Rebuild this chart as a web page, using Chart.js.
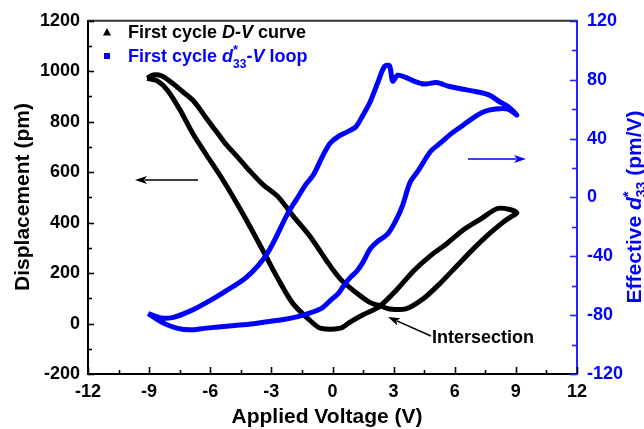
<!DOCTYPE html>
<html><head><meta charset="utf-8">
<script src="https://cdn.jsdelivr.net/npm/chart.js@4/dist/chart.umd.min.js"></script>
<style>html,body{margin:0;padding:0;background:#fff}#wrap{width:644px;height:429px;position:relative}</style>
</head><body><div id="wrap"><canvas id="c" width="644" height="429" style="width:644px;height:429px"></canvas></div>
<script>
// ---- Data ----
const xTickValues = [-12, -9, -6, -3, 0, 3, 6, 9, 12];
const leftTickValues = [-200, 0, 200, 400, 600, 800, 1000, 1200];
const rightTickValues = [-120, -80, -40, 0, 40, 80, 120];

// First cycle D-V curve (Applied voltage V, displacement pm), loop order
const dvVoltage = [-9.1,-8.8,-8.4,-7.9,-7.4,-6.85,-6.2,-5.6,-5.2,-4.6,-4.05,-3.4,-2.7,-1.95,-1.1,-0.3,0.4,1.2,1.85,2.35,2.8,3.6,4.45,5.3,6.1,6.9,7.7,8.35,8.8,9.05,
  8.7,8.1,7.25,6.4,5.6,4.8,4.0,3.2,2.55,2.2,1.5,0.9,0.4,-0.6,-1.1,-1.95,-2.7,-3.4,-4.4,-5.4,-6.2,-6.85,-7.5,-8.1,-8.6,-9.1];
const dvDisplacement = [972,985,982,955,922,885,815,750,708,655,604,550,505,428,345,250,175,120,83,70,58,58,98,161,228,295,356,400,425,438,
  452,456,413,370,316,268,210,138,85,62,35,8,-18,-18,12,80,181,287,435,572,670,752,849,925,962,972];

// First cycle d33*-V loop (Applied voltage V, effective d33* pm/V), loop order
const d33Voltage = [-9.05,-8.6,-8.2,-7.6,-7.0,-6.3,-5.6,-4.8,-4.0,-3.2,-2.4,-1.7,-1.1,-0.5,-0.1,0.3,0.6,0.9,1.2,1.5,1.85,2.2,2.7,3.1,3.45,3.8,4.2,4.8,5.3,5.8,6.3,6.8,7.4,8.0,8.6,9.05,
  8.6,8.2,7.7,7.0,6.4,5.7,5.1,4.5,4.0,3.6,3.2,2.95,2.8,2.55,2.25,1.85,1.5,1.15,0.8,0.35,-0.1,-0.45,-0.95,-1.3,-1.75,-2.2,-3.2,-4.2,-5.4,-6.0,-6.65,-7.2,-7.8,-8.4,-9.05];
const d33Value = [-79,-83,-86,-89,-90,-89,-88,-87,-86,-84.5,-83,-81,-78.5,-75,-70,-65,-59,-54,-50,-44,-35,-30,-25,-16,-5,10,18,31,37,43,48,53,58,60,60,56,
  62,65,69.5,72,73.5,75.5,78,77,79,81.5,83,79,89.5,89,79,65,56,48,45,42,37,29,15,9,-1,-11,-38,-54,-65,-70,-75,-78.5,-81.5,-82,-79];

const BLUE = '#0000ff';
const AXBLUE = '#2222ff';
const FF = '"Liberation Sans", Arial, Helvetica, sans-serif';

function drawRich(ctx, segs, x, y) {
  for (const s of segs) {
    ctx.font = s.font;
    ctx.fillText(s.t, x, y + (s.dy || 0));
    if (!s.noAdv) x += ctx.measureText(s.t).width;
  }
  return x;
}
function richWidth(ctx, segs) {
  let w = 0;
  for (const s of segs) { ctx.font = s.font; if (!s.noAdv) w += ctx.measureText(s.t).width; }
  return w;
}
function arrow(ctx, x1, y1, x2, y2, color) {
  const ang = Math.atan2(y2 - y1, x2 - x1);
  const hl = 12, hw = 4;
  ctx.save();
  ctx.strokeStyle = color; ctx.fillStyle = color; ctx.lineWidth = 1.6;
  ctx.beginPath();
  ctx.moveTo(x1, y1);
  ctx.lineTo(x2 - Math.cos(ang) * hl * 0.8, y2 - Math.sin(ang) * hl * 0.8);
  ctx.stroke();
  ctx.translate(x2, y2); ctx.rotate(ang);
  ctx.beginPath();
  ctx.moveTo(0, 0); ctx.lineTo(-hl, -hw); ctx.lineTo(-hl * 0.75, 0); ctx.lineTo(-hl, hw); ctx.closePath();
  ctx.fill();
  ctx.restore();
}

const decor = {
  id: 'decor',
  afterDraw(chart) {
    const ctx = chart.ctx;
    const a = chart.chartArea;
    const xs = chart.scales.x, yl = chart.scales.y, yr = chart.scales.y2;
    ctx.save();
    ctx.strokeStyle = '#333'; ctx.lineWidth = 2;
    ctx.beginPath(); ctx.moveTo(a.left, a.top); ctx.lineTo(a.right, a.top); ctx.stroke();
    ctx.lineWidth = 1.6;
    ctx.strokeStyle = '#000';
    for (let v = -12; v <= 12.001; v += 1.5) {
      const p = Math.round(xs.getPixelForValue(v)) + 0.5;
      const L = (Math.abs(v % 3) < 1e-6) ? 7 : 4;
      ctx.beginPath(); ctx.moveTo(p, a.bottom); ctx.lineTo(p, a.bottom - L); ctx.stroke();
    }
    for (let v = -200; v <= 1200; v += 100) {
      const p = Math.round(yl.getPixelForValue(v)) + 0.5;
      const L = (v % 200 === 0) ? 6 : 4;
      ctx.beginPath(); ctx.moveTo(a.left, p); ctx.lineTo(a.left + L, p); ctx.stroke();
    }
    ctx.strokeStyle = AXBLUE;
    for (let v = -120; v <= 120; v += 20) {
      const p = Math.round(yr.getPixelForValue(v)) + 0.5;
      const L = (v % 40 === 0) ? 7 : 5;
      ctx.beginPath(); ctx.moveTo(a.right, p); ctx.lineTo(a.right - L, p); ctx.stroke();
    }
    ctx.fillStyle = '#000';
    ctx.textBaseline = 'alphabetic';
    ctx.textAlign = 'center';
    ctx.font = 'bold 21px ' + FF;
    ctx.fillText('Applied Voltage (V)', 327, 423);
    ctx.save();
    ctx.translate(29, 197); ctx.rotate(-Math.PI / 2);
    ctx.fillText('Displacement (pm)', 0, 0);
    ctx.restore();
    ctx.textAlign = 'left';
    const rt = [
      {t: 'Effective ', font: 'bold 21px ' + FF},
      {t: 'd', font: 'italic bold 21px ' + FF},
      {t: '*', font: 'bold 15px ' + FF, dy: -8, noAdv: true},
      {t: '33', font: 'bold 14px ' + FF, dy: 5},
      {t: ' (pm/V)', font: 'bold 21px ' + FF}
    ];
    ctx.save();
    ctx.fillStyle = BLUE;
    ctx.translate(641, 207); ctx.rotate(-Math.PI / 2);
    drawRich(ctx, rt, -richWidth(ctx, rt) / 2, 0);
    ctx.restore();
    ctx.fillStyle = '#000';
    ctx.beginPath(); ctx.moveTo(107, 28); ctx.lineTo(111, 35.5); ctx.lineTo(103, 35.5); ctx.closePath(); ctx.fill();
    ctx.fillStyle = BLUE;
    ctx.fillRect(104, 53, 6, 6);
    ctx.fillStyle = '#000';
    drawRich(ctx, [
      {t: 'First cycle ', font: 'bold 18px ' + FF},
      {t: 'D-V', font: 'italic bold 18px ' + FF},
      {t: ' curve', font: 'bold 18px ' + FF}
    ], 128, 38);
    ctx.fillStyle = BLUE;
    drawRich(ctx, [
      {t: 'First cycle ', font: 'bold 18px ' + FF},
      {t: 'd', font: 'italic bold 18px ' + FF},
      {t: '*', font: 'bold 13px ' + FF, dy: -8, noAdv: true},
      {t: '33', font: 'bold 12px ' + FF, dy: 6},
      {t: '-V', font: 'italic bold 18px ' + FF},
      {t: ' loop', font: 'bold 18px ' + FF}
    ], 128, 62);
    arrow(ctx, 198, 180, 135, 180, '#000');
    arrow(ctx, 468, 159, 526, 159, BLUE);
    arrow(ctx, 431, 336, 388, 317, '#000');
    ctx.fillStyle = '#000';
    ctx.font = 'bold 18px ' + FF;
    ctx.textAlign = 'left';
    ctx.fillText('Intersection', 432, 343);
    ctx.restore();
  }
};

const dvData = dvVoltage.map((v, i) => ({x: v, y: dvDisplacement[i]}));
const d33Data = d33Voltage.map((v, i) => ({x: v, y: d33Value[i]}));
const plainTick = v => String(v);

new Chart(document.getElementById('c'), {
  type: 'scatter',
  data: {
    datasets: [
      {label: 'First cycle D-V curve', data: dvData, yAxisID: 'y', showLine: true, borderColor: '#000', backgroundColor: '#000',
       borderWidth: 5, pointRadius: 0, pointStyle: 'triangle', tension: 0.3, order: 2, borderJoinStyle: 'round'},
      {label: 'First cycle d33*-V loop', data: d33Data, yAxisID: 'y2', showLine: true, borderColor: BLUE, backgroundColor: BLUE,
       borderWidth: 5, pointRadius: 0, pointStyle: 'rect', tension: 0.3, order: 1, borderJoinStyle: 'round'}
    ]
  },
  options: {
    responsive: false,
    animation: false,
    devicePixelRatio: 1,
    layout: {padding: {top: 18, left: 0, right: 0, bottom: 0}},
    plugins: {legend: {display: false}, tooltip: {enabled: false}},
    scales: {
      x: {
        type: 'linear', position: 'bottom', min: -12, max: 12,
        afterBuildTicks: s => { s.ticks = xTickValues.map(v => ({value: v})); },
        afterFit: s => { s.height = 55; },
        grid: {display: false, drawTicks: false},
        border: {display: true, color: '#000', width: 2},
        ticks: {autoSkip: false, maxRotation: 0, padding: 7, color: '#000', callback: plainTick, font: {family: FF, size: 18, weight: 'bold'}}
      },
      y: {
        type: 'linear', position: 'left', min: -200, max: 1200,
        afterBuildTicks: s => { s.ticks = leftTickValues.map(v => ({value: v})); },
        afterFit: s => { s.width = 88; },
        grid: {display: false, drawTicks: false},
        border: {display: true, color: '#000', width: 2},
        ticks: {padding: 8, color: '#000', callback: plainTick, font: {family: FF, size: 18, weight: 'bold'}}
      },
      y2: {
        type: 'linear', position: 'right', min: -120, max: 120,
        afterBuildTicks: s => { s.ticks = rightTickValues.map(v => ({value: v})); },
        afterFit: s => { s.width = 67; },
        grid: {display: false, drawTicks: false},
        border: {display: true, color: AXBLUE, width: 2},
        ticks: {padding: 10, color: BLUE, callback: plainTick, font: {family: FF, size: 18, weight: 'bold'}}
      }
    }
  },
  plugins: [decor]
});
</script>
</body></html>
